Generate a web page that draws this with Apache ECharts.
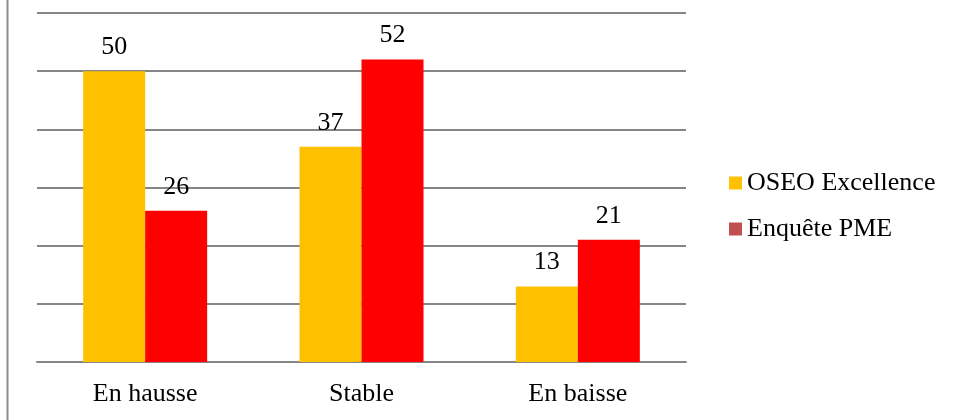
<!DOCTYPE html>
<html>
<head>
<meta charset="utf-8">
<script src="https://cdn.jsdelivr.net/npm/echarts@6/dist/echarts.min.js"></script>
<style>
  html, body { margin: 0; padding: 0; background: #fff; }
  #chart { width: 956px; height: 420px; }
</style>
</head>
<body>
<div id="chart"></div>
<script>
const categories = ['En hausse', 'Stable', 'En baisse']
const oseoValues = [50, 37, 13]
const pmeValues = [26, 52, 21]
const seriesNames = ['OSEO Excellence', 'Enquête PME']

const font = 'Liberation Serif, Times New Roman, serif'

var myChart = echarts.init(document.getElementById('chart'))
myChart.setOption({
  animation: false,
  backgroundColor: '#fff',
  graphic: [
    {
      type: 'line',
      shape: { x1: 7.5, y1: 0, x2: 7.5, y2: 420 },
      style: { stroke: '#8c8c8c', lineWidth: 2 }
    }
  ],
  legend: {
    orient: 'vertical',
    left: 724,
    top: 165,
    itemWidth: 13,
    itemHeight: 13,
    itemGap: 20,
    icon: 'rect',
    textStyle: { fontFamily: font, fontSize: 26, color: '#000' },
    data: [
      { name: seriesNames[0], itemStyle: { color: '#FFC000' } },
      { name: seriesNames[1], itemStyle: { color: '#C0504D' } }
    ]
  },
  grid: {
    left: 37,
    right: 270,
    top: 13,
    bottom: 58
  },
  xAxis: {
    type: 'category',
    data: categories,
    axisTick: { show: false },
    axisLine: { show: true, lineStyle: { color: '#868686', width: 2 } },
    axisLabel: {
      fontFamily: font,
      fontSize: 26,
      color: '#000',
      margin: 19
    }
  },
  yAxis: {
    type: 'value',
    min: 0,
    max: 60,
    interval: 10,
    axisLabel: { show: false },
    axisTick: { show: false },
    axisLine: { show: false },
    splitLine: { lineStyle: { color: '#868686', width: 2 } }
  },
  series: [
    {
      name: seriesNames[0],
      type: 'bar',
      barWidth: 62,
      barGap: 0,
      itemStyle: { color: '#FFC000' },
      label: {
        show: true,
        position: 'top',
        distance: 11,
        fontFamily: font,
        fontSize: 26,
        color: '#000'
      },
      data: oseoValues
    },
    {
      name: seriesNames[1],
      type: 'bar',
      barWidth: 62,
      barGap: 0,
      itemStyle: { color: '#FF0000' },
      label: {
        show: true,
        position: 'top',
        distance: 11,
        fontFamily: font,
        fontSize: 26,
        color: '#000'
      },
      data: pmeValues
    }
  ]
})
</script>
</body>
</html>
